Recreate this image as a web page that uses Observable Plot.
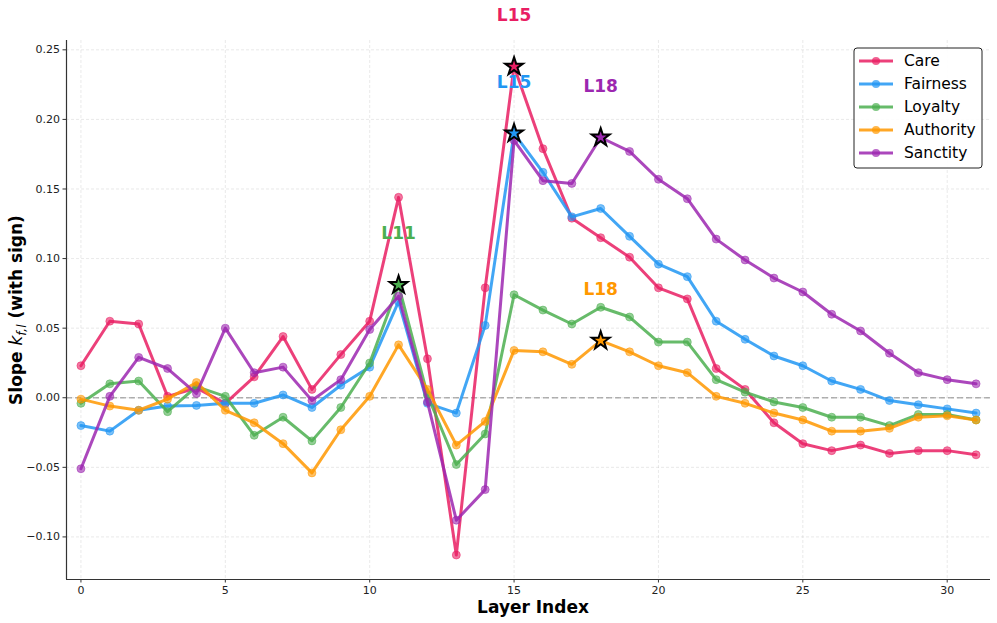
<!DOCTYPE html>
<html><head><meta charset="utf-8">
<script src="https://cdn.jsdelivr.net/npm/d3@7"></script>
<script src="https://cdn.jsdelivr.net/npm/@observablehq/plot@0.6"></script>
<style>
html,body{margin:0;padding:0;background:#fff;overflow:hidden}
#chart{position:relative;width:997px;height:623px}
</style>
</head><body><div id="chart"></div>
<script>
const layers = [0,1,2,3,4,5,6,7,8,9,10,11,12,13,14,15,16,17,18,19,20,21,22,23,24,25,26,27,28,29,30,31];
const seriesNames = ["Care","Fairness","Loyalty","Authority","Sanctity"];
const seriesColors = ["#E91E63","#2196F3","#4CAF50","#FF9800","#9C27B0"];
const care = [0.023,0.055,0.053,0.001,0.007,-0.004,0.015,0.044,0.006,0.031,0.055,0.144,0.028,-0.113,0.079,0.238,0.179,0.129,0.115,0.101,0.079,0.071,0.021,0.006,-0.018,-0.033,-0.038,-0.034,-0.040,-0.038,-0.038,-0.041];
const fairness = [-0.020,-0.024,-0.009,-0.006,-0.0055,-0.004,-0.004,0.002,-0.007,0.009,0.022,0.069,-0.004,-0.011,0.052,0.190,0.162,0.130,0.136,0.116,0.096,0.087,0.055,0.042,0.030,0.023,0.012,0.006,-0.002,-0.005,-0.008,-0.011];
const loyalty = [-0.004,0.010,0.012,-0.010,0.008,0.001,-0.027,-0.014,-0.031,-0.007,0.025,0.081,0.002,-0.048,-0.026,0.074,0.063,0.053,0.065,0.058,0.040,0.040,0.013,0.004,-0.003,-0.007,-0.014,-0.014,-0.020,-0.012,-0.012,-0.016];
const authority = [-0.001,-0.006,-0.009,-0.001,0.011,-0.009,-0.018,-0.033,-0.054,-0.023,0.001,0.038,0.006,-0.034,-0.017,0.034,0.033,0.024,0.041,0.033,0.023,0.018,0.001,-0.004,-0.011,-0.016,-0.024,-0.024,-0.022,-0.014,-0.013,-0.016];
const sanctity = [-0.051,0.001,0.029,0.021,0.003,0.050,0.018,0.022,-0.002,0.013,0.049,0.073,-0.003,-0.088,-0.066,0.185,0.156,0.154,0.187,0.177,0.157,0.143,0.114,0.099,0.086,0.076,0.060,0.048,0.032,0.018,0.013,0.010];
const peakLayers = [15,15,11,18,18];
const xTicks = [0,5,10,15,20,25,30];
const yTicks = [-0.10,-0.05,0.00,0.05,0.10,0.15,0.20,0.25];
const xDomain = [-0.5, 31.5];
const yDomain = [-0.1306, 0.2567];

const valuesBySeries = [care, fairness, loyalty, authority, sanctity];
const rows = [];
seriesNames.forEach((s, i) => layers.forEach((l, j) => rows.push({series: s, layer: l, value: valuesBySeries[i][j]})));
const peaks = seriesNames.map((s, i) => ({series: s, layer: peakLayers[i], value: valuesBySeries[i][layers.indexOf(peakLayers[i])], label: "L" + peakLayers[i]}));

const marks = [
  Plot.gridX(xTicks, {stroke: "#b0b0b0", strokeOpacity: 0.35, strokeDasharray: "3,2", strokeWidth: 0.8}),
  Plot.gridY(yTicks, {stroke: "#b0b0b0", strokeOpacity: 0.35, strokeDasharray: "3,2", strokeWidth: 0.8}),
  Plot.ruleY([0], {stroke: "#808080", strokeOpacity: 0.6, strokeDasharray: "6,3", strokeWidth: 1.5}),
];
seriesNames.forEach((s) => {
  const d = rows.filter(r => r.series === s);
  marks.push(Plot.line(d, {x: "layer", y: "value", stroke: "series", strokeWidth: 3, strokeOpacity: 0.85}));
  marks.push(Plot.dot(d, {x: "layer", y: "value", fill: "series", stroke: "series", r: 4, fillOpacity: 0.6, strokeOpacity: 0.5, strokeWidth: 1}));
});
marks.push(Plot.dot(peaks, {x: "layer", y: "value", symbol: "star", r: 5.6, fill: "series", stroke: "black", strokeWidth: 2}));
marks.push(Plot.text(peaks, {x: "layer", y: "value", text: "label", fill: "series", dy: -51, fontSize: 17, fontWeight: "bold", lineAnchor: "middle"}));
marks.push(Plot.ruleX([xDomain[0]], {stroke: "#333", strokeWidth: 1.2}));
marks.push(Plot.ruleY([yDomain[0]], {stroke: "#333", strokeWidth: 1.2}));
marks.push(Plot.axisX(xTicks, {tickSize: 3.5, tickPadding: 3, label: null, stroke: "#333", fontSize: 11}));
marks.push(Plot.axisY(yTicks, {tickSize: 3.5, tickPadding: 3, label: null, tickFormat: d3.format(".2f"), stroke: "#333", fontSize: 11}));

const chart = Plot.plot({
  width: 997, height: 623,
  marginLeft: 66, marginRight: 7, marginTop: 40, marginBottom: 44,
  style: {fontFamily: "DejaVu Sans", fontSize: "11px", color: "#222", background: "#fff"},
  x: {domain: xDomain},
  y: {domain: yDomain},
  color: {domain: seriesNames, range: seriesColors},
  marks
});
document.getElementById("chart").appendChild(chart);

const svg = d3.select(chart);
// axis labels
svg.append("text").attr("x", 533).attr("y", 608).attr("text-anchor", "middle").attr("dominant-baseline", "middle")
  .attr("font-family", "DejaVu Sans").attr("font-weight", "bold").attr("font-size", 17).attr("fill", "#000").text("Layer Index");
const yl = svg.append("text").attr("transform", "translate(22,310) rotate(-90)").attr("text-anchor", "middle")
  .attr("font-family", "DejaVu Sans").attr("font-weight", "bold").attr("font-size", 17).attr("fill", "#000");
yl.append("tspan").text("Slope ");
yl.append("tspan").attr("font-style", "italic").attr("font-weight", "normal").text("k");
yl.append("tspan").attr("font-style", "italic").attr("font-weight", "normal").attr("font-size", 12).attr("dy", 4).text("f,l");
yl.append("tspan").attr("dy", -4).text(" (with sign)");

// legend
const lg = svg.append("g");
lg.append("rect").attr("x", 854).attr("y", 48).attr("width", 128).attr("height", 120).attr("rx", 3)
  .attr("fill", "#fff").attr("fill-opacity", 0.9).attr("stroke", "#222").attr("stroke-width", 1);
seriesNames.forEach((s, i) => {
  const y = 61 + i * 23;
  lg.append("line").attr("x1", 859).attr("x2", 893).attr("y1", y).attr("y2", y)
    .attr("stroke", seriesColors[i]).attr("stroke-width", 3).attr("stroke-opacity", 0.85);
  lg.append("circle").attr("cx", 876).attr("cy", y).attr("r", 4).attr("fill", seriesColors[i]).attr("fill-opacity", 0.7);
  lg.append("text").attr("x", 904).attr("y", y).attr("text-anchor", "start").attr("dominant-baseline", "middle")
    .attr("font-family", "DejaVu Sans").attr("font-size", 15.5).attr("fill", "#000").text(s);
});
</script>
</body></html>
